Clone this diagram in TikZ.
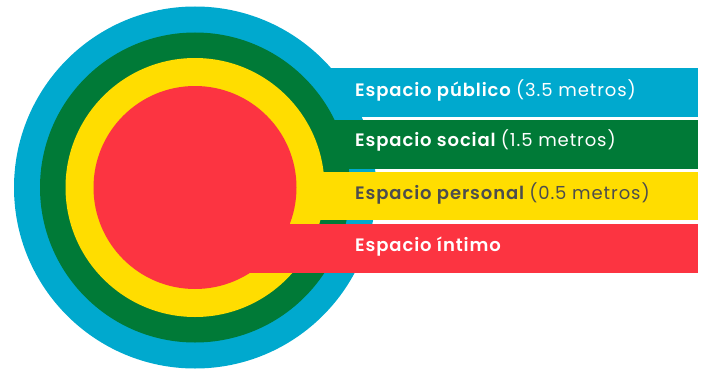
\documentclass[tikz,border=0pt]{standalone}
\usepackage{fontspec}
\setmainfont{Poppins}[BoldFont={Poppins SemiBold}, LetterSpace=5]
\definecolor{publico}{HTML}{00A9CE}
\definecolor{social}{HTML}{007A37}
\definecolor{personal}{HTML}{FFDD00}
\definecolor{intimo}{HTML}{FC3441}
\definecolor{gristexto}{HTML}{4D4D4D}
\begin{document}
\begin{tikzpicture}[x=1pt, y=-1pt,
	etiqueta/.style={anchor=base west, inner sep=0pt, font=\fontsize{18}{21}\selectfont}]
	\useasboundingbox (0, 0) rectangle (703, 369);
	%%%%% circulos y bandas %%%%%
	\fill[publico] (195, 187.5) circle[radius=181pt];
	\fill[publico] (195, 68) rectangle (697.5, 117);
	\fill[social] (195, 187.5) circle[radius=155pt];
	\fill[social] (195, 119.5) rectangle (697.5, 168.5);
	\fill[personal] (195, 187.5) circle[radius=129.5pt];
	\fill[personal] (195, 171.5) rectangle (697.5, 220);
	\fill[intimo] (195, 187.5) circle[radius=101.5pt];
	\fill[intimo] (195, 223.5) rectangle (697.5, 272.5);
	%%%%% textos %%%%%
	\node[etiqueta, text=white] (publico) at (355, 96.7) {\textbf{Espacio público}\hspace{-1.5pt} (3.5 metros)};
	\node[etiqueta, text=white] (social) at (355, 146.9) {\textbf{Espacio social}\hspace{-1.5pt} (1.5 metros)};
	\node[etiqueta, text=gristexto] (personal) at (355, 199) {\textbf{Espacio personal}\hspace{-1.5pt} (0.5 metros)};
	\node[etiqueta, text=white] (intimo) at (355, 251) {\textbf{Espacio íntimo}};
\end{tikzpicture}
\end{document}
